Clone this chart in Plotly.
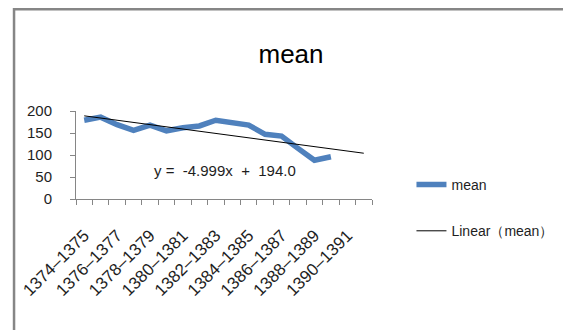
import plotly.graph_objects as go

categories = [f"{y}\u2013{y+1}" for y in range(1374, 1392)]
mean_values = [179, 186, 169, 156, 168, 155, 162, 166, 179, 174, 168, 147, 143, 115, 88, 96]
trend_slope = -4.999
trend_intercept = 194.0
y_ticks = [0, 50, 100, 150, 200]

trend_values = [trend_slope * (i + 1) + trend_intercept for i in range(len(categories))]

FONT = "Liberation Sans, Arial, sans-serif"
GRAY = "#868686"
TXT = "#1e1e1e"

# the page body has an 8px margin; positions below are page pixels
OFF = 8
FW, FH = 571 - OFF, 330 - OFF
L = 72 - OFF
T = 111 - OFF
R = FW - (372 - OFF)
B = FH - (199 - OFF)
W, H = FW - L - R, FH - T - B


def px_x(p):
    return (p - OFF - L) / W


def px_y(p):
    return (FH - B - (p - OFF)) / H


fig = go.Figure()
fig.add_trace(go.Scatter(
    x=categories[:len(mean_values)], y=mean_values, mode="lines", name="mean",
    line=dict(color="#4F81BD", width=5.5), legendgroup="a"))
fig.add_trace(go.Scatter(
    x=categories, y=trend_values, mode="lines", name="Linear\uff08mean\uff09",
    line=dict(color="#000000", width=1), legendgroup="b"))
# invisible trace for the boundary-tick axis
fig.add_trace(go.Scatter(x=[-0.5, len(categories) - 0.5], y=[None, None], xaxis="x2",
                         showlegend=False, hoverinfo="skip", mode="lines"))

fig.update_layout(
    width=FW, height=FH,
    margin=dict(l=L, r=R, t=T, b=B, pad=0),
    paper_bgcolor="white", plot_bgcolor="white",
    font=dict(family=FONT, size=14, color=TXT),
    title=dict(text="mean", x=(291 - OFF) / FW, xref="container", xanchor="center",
               y=1 - (54 - OFF) / FH, yref="container", yanchor="middle",
               font=dict(family=FONT, size=26, color="#000000")),
    xaxis=dict(type="category", categoryorder="array", categoryarray=categories,
               range=[-0.5, len(categories) - 0.5],
               tickvals=categories[::2], ticktext=categories[::2],
               tickangle=-45, ticks="", showline=True, linecolor=GRAY, linewidth=1,
               showgrid=False, zeroline=False, ticklabelstandoff=19,
               tickfont=dict(size=17, color=TXT)),
    xaxis2=dict(overlaying="x", anchor="y", side="bottom", range=[-0.5, len(categories) - 0.5],
                tickvals=[i - 0.5 for i in range(len(categories) + 1)],
                ticks="outside", ticklen=5, tickcolor=GRAY, showticklabels=False,
                showline=False, showgrid=False, zeroline=False),
    yaxis=dict(range=[0, 200], tickvals=y_ticks, ticks="outside", ticklen=5, tickcolor=GRAY,
               showline=True, linecolor=GRAY, linewidth=1, showgrid=False, zeroline=False,
               ticklabelstandoff=15, tickfont=dict(size=15, color=TXT)),
    legend=dict(x=px_x(412), y=px_y(169), xanchor="left", yanchor="top",
                tracegroupgap=25, font=dict(size=14, color=TXT),
                bgcolor="rgba(0,0,0,0)"),
    showlegend=True,
)

fig.add_annotation(text="y\u00a0=\u00a0\u00a0-4.999x\u00a0\u00a0+\u00a0\u00a0194.0",
                   xref="paper", yref="paper", x=px_x(223), y=px_y(170),
                   xanchor="center", yanchor="middle", showarrow=False,
                   font=dict(size=15, color=TXT))

# chart-area frame (left and top edges visible in the window)
fig.add_shape(type="rect", xref="paper", yref="paper",
              x0=px_x(OFF + 1.2), x1=px_x(600), y0=px_y(360), y1=px_y(OFF + 1.2),
              line=dict(color=GRAY, width=2.5), fillcolor="rgba(0,0,0,0)", layer="below")

fig.write_html("out.html")
